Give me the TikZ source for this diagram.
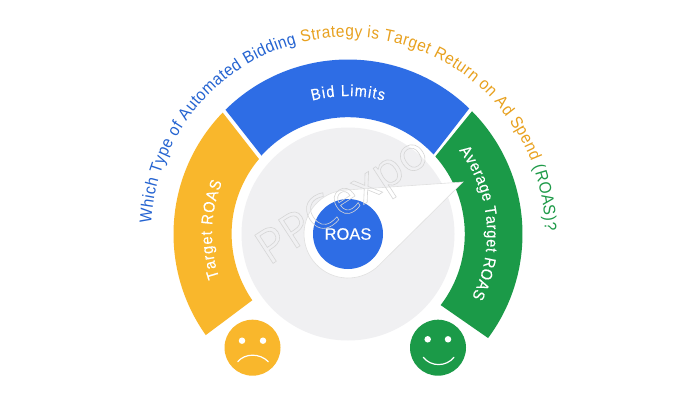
\documentclass[tikz,border=0pt]{standalone}
\usepackage{fontspec}
\setmainfont{Liberation Sans}
\newfontfamily\wmfont{Open Sans}
\newfontfamily\whitefont{Liberation Sans}[FakeBold=0.25,FakeStretch=0.91]
\newfontfamily\hubfont{Liberation Sans}[FakeBold=0.25]
\newfontfamily\titlefam{Liberation Sans}[FakeStretch=0.92]
\usetikzlibrary{decorations.text}
\definecolor{gblue}{HTML}{2E6DE5}
\definecolor{gyellow}{HTML}{F9B72C}
\definecolor{ggreen}{HTML}{1B9A48}
\definecolor{ggrey}{HTML}{F0F0F2}
\definecolor{tblue}{HTML}{2463D1}
\definecolor{torange}{HTML}{E8A11F}
\definecolor{tgreen}{HTML}{1E9A48}
\newcommand{\titlefont}{\titlefam\fontsize{16.8}{20}\selectfont}
\newcommand{\bandfont}{\whitefont\fontsize{16}{18}\selectfont\color{white}}
\tikzset{
  x=1pt,y=1pt,
  band/.style={draw=none},
  eye/.style={circle,fill=white,minimum size=6.5pt,inner sep=0pt},
  mouth/.style={draw=white,line width=1.2pt,line cap=round},
  face/.style={circle,minimum size=56pt,inner sep=0pt},
  curved/.style={decoration={text along path,text align={fit to path},text={#1}},decorate},
}
\begin{document}
\begin{tikzpicture}
\useasboundingbox (0,0) rectangle (698,400);
\fill[white] (0,0) rectangle (698,400);
\coordinate (c) at (348,166);
% grey disc
\node[circle,fill=ggrey,minimum size=213pt,inner sep=0pt] (disc) at (c) {};
% bands
\fill[gyellow,band] ([shift={(215.4:174.5)}]c) arc[start angle=215.4,end angle=135.9,radius=174.5]
  -- ([shift={(139.9:116.4)}]c) arc[start angle=139.9,end angle=214.7,radius=116.4] -- cycle;
\fill[gblue,band] ([shift={(134.6:174.5)}]c) arc[start angle=134.6,end angle=46,radius=174.5]
  -- ([shift={(42.9:116.8)}]c) arc[start angle=42.9,end angle=137.8,radius=116.8] -- cycle;
\fill[ggreen,band] ([shift={(44.7:174.5)}]c) arc[start angle=44.7,end angle=-36.6,radius=174.5]
  -- ([shift={(-37.5:116.8)}]c) arc[start angle=-37.5,end angle=41.6,radius=116.8] -- cycle;
% pointer
\coordinate (tip) at (463,218);
\fill[white,draw=black!12,line width=0.6pt] (tip) -- ([shift={(93.9:44)}]c) arc[start angle=93.9,end angle=314.7,radius=44] -- cycle;
% hub
\node[circle,fill=gblue,minimum size=70pt,inner sep=0pt,text=white,font=\hubfont\fontsize{16.5}{18}\selectfont] (hub) at (c) {ROAS};
% band labels
\path[postaction={curved={|\bandfont|Bid Limits}}] ([shift={(105:138)}]c) arc[start angle=105,end angle=75,radius=138];
\path[postaction={curved={|\bandfont|Target ROAS}}] ([shift={(198.7:136)}]c) arc[start angle=198.7,end angle=157.6,radius=136];
\path[postaction={curved={|\bandfont|Average Target ROAS}}] ([shift={(37:139)}]c) arc[start angle=37,end angle=-27,radius=139];
% title
\path[postaction={curved={|\titlefont\color{tblue}|Which Type of Automated Bidding ||%
|\titlefont\color{torange}|Strategy is Target Return on Ad Spend ||%
|\titlefont\color{tgreen}|(ROAS)?}}] ([shift={(177:197)}]c) arc[start angle=177,end angle=1,radius=197];
% faces
\node[face,fill=gyellow] (sad) at (252.5,52.3) {};
\node[eye] (sadl) at (242,59.3) {};
\node[eye] (sadr) at (263,59.3) {};
\coordinate (sadm1) at (237.7,38.3);
\coordinate (sadm2) at (268.3,38.3);
\draw[mouth] (sadm1) .. controls (245,47) and (260,47) .. (sadm2);
\node[face,fill=ggreen] (happy) at (438,52.3) {};
\node[eye] (hapl) at (427.7,60.7) {};
\node[eye] (hapr) at (448,60.7) {};
\coordinate (hapm1) at (423.3,42.7);
\coordinate (hapm2) at (454,42.7);
\draw[mouth] (hapm1) .. controls (431,33) and (446,33) .. (hapm2);
% watermark
\node[rotate=33,anchor=base west,font=\wmfont\fontsize{47}{52}\selectfont,inner sep=0pt] (wm) at (269,134)
  {\special{pdf:literal direct 1 Tr 0.6 w 0.84 G}PPCexpo\special{pdf:literal direct 0 Tr 0 G}};
\end{tikzpicture}
\end{document}
